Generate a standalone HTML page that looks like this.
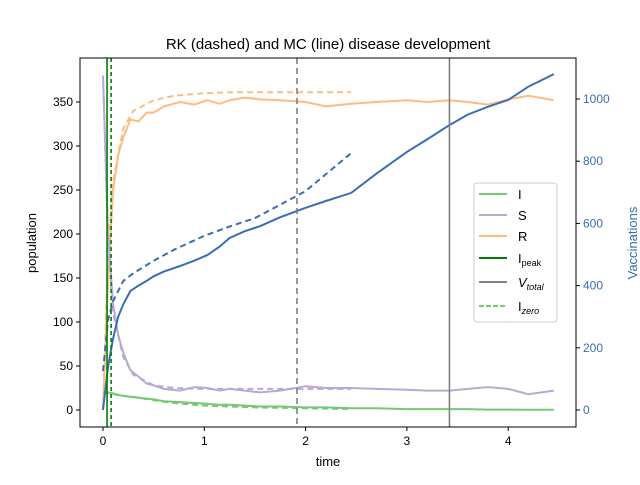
<!DOCTYPE html>
<html><head><meta charset="utf-8"><style>
body{margin:0;background:#fff}
svg{font-family:"Liberation Sans","DejaVu Sans",sans-serif}
</style></head><body>
<svg id="c" width="640" height="480" viewBox="0 0 640 480">
<rect x="0" y="0" width="640" height="480" fill="#fff"/>
<text x="328" y="49" font-size="15" text-anchor="middle">RK (dashed) and MC (line) disease development</text>
<g id="plot"></g>
<rect x="80" y="58" width="496" height="369" fill="none" stroke="#000" stroke-width="1"/>
<g id="axes"></g>
<text x="328" y="466" font-size="13" text-anchor="middle">time</text>
<text x="0" y="0" font-size="13" text-anchor="middle" transform="translate(36,243) rotate(-90)">population</text>
<text x="0" y="0" font-size="13" text-anchor="middle" fill="#3a6db5" transform="translate(637,243) rotate(-90)">Vaccinations</text>
<g>
<rect x="474" y="183" width="83" height="139" rx="3" fill="#fff" fill-opacity="0.85" stroke="#ccc"/>
<g><line x1="479" y1="194" x2="507" y2="194" stroke="#77c777" stroke-width="2"/><text x="518" y="199" font-size="13">I</text></g>
<g><line x1="479" y1="215" x2="507" y2="215" stroke="#b9a8d3" stroke-width="2"/><text x="518" y="220" font-size="13">S</text></g>
<g><line x1="479" y1="236" x2="507" y2="236" stroke="#fdbb80" stroke-width="2"/><text x="518" y="241" font-size="13">R</text></g>
<g><line x1="479" y1="258" x2="507" y2="258" stroke="#008000" stroke-width="2"/><text x="518" y="263" font-size="13">I<tspan font-size="9" dy="3">peak</tspan></text></g>
<g><line x1="479" y1="282" x2="507" y2="282" stroke="#808080" stroke-width="2"/><text x="518" y="287" font-size="13" font-style="italic">V<tspan font-size="9" dy="3">total</tspan></text></g>
<g><line x1="479" y1="306" x2="507" y2="306" stroke="#77c777" stroke-width="2" stroke-dasharray="5,2"/><text x="518" y="311" font-size="13">I<tspan font-size="9" font-style="italic" dy="3">zero</tspan></text></g>
</g>
</svg>
<script>
const xTicks=[0,1,2,3,4];
const yTicks=[0,50,100,150,200,250,300,350];
const vTicks=[0,200,400,600,800,1000];
const mcT=[0,0.05,0.1,0.15,0.2,0.27,0.35,0.43,0.5,0.6,0.76,0.9,1.03,1.15,1.25,1.4,1.55,1.75,2.0,2.2,2.45,2.7,3.0,3.2,3.42,3.6,3.8,4.0,4.2,4.45];
const mcR=[0,150,250,290,310,330,328,338,338,345,350,347,352,348,352,355,353,352,350,345,348,350,352,350,352,350,347,353,357,352];
const mcS=[380,200,120,85,65,45,38,30,28,24,22,26,25,22,24,22,20,22,27,25,25,24,23,22,22,24,26,24,18,22];
const mcI=[20,20,19,17,16,15,14,13,12,10,9,8,7,6,6,5,4,4,3,3,2,2,1,1,1,1,0.5,0.5,0.3,0.3];
const mcV=[0,140,230,300,340,383,400,415,430,445,463,480,498,525,553,575,591,620,650,672,698,760,830,870,916,950,975,997,1040,1080];
const rkT=[0,0.05,0.1,0.2,0.3,0.5,0.7,1.0,1.25,1.5,1.75,2.0,2.45];
const rkR=[0,180,260,320,340,352,357,360,361,361,361,361,361];
const rkS=[380,190,110,60,40,28,25,24,24,24,24,24,24];
const rkI=[20,19,18,16,15,11,8,5,4,3,2.5,2,1];
const rkV=[125,290,350,415,440,480,515,560,590,617,660,704,826];
const vlines=[[0.04,'#008000',null],[0.08,'#008000','4,3'],[1.915,'#808080','6,4'],[3.42,'#808080',null]];
const X=t=>103+t*101.3, Y=v=>410-v*0.88, YV=v=>410-v*0.311;
const NS='http://www.w3.org/2000/svg';
const plot=document.getElementById('plot'), axes=document.getElementById('axes');
function mk(tag,attrs,parent){const e=document.createElementNS(NS,tag);for(const k in attrs)e.setAttribute(k,attrs[k]);parent.appendChild(e);return e;}
function line(ts,vs,yf,color,dash,name){
  const d=ts.map((t,i)=>(i?'L':'M')+X(t).toFixed(1)+','+yf(vs[i]).toFixed(1)).join(' ');
  const p=mk('path',{d:d,fill:'none',stroke:color,'stroke-width':2},plot);
  if(dash)p.setAttribute('stroke-dasharray',dash);
  
  
}
line(rkT,rkR,Y,'#fdbb80','6,4','rk-r-line');
line(mcT,mcR,Y,'#fdbb80',null,'mc-r-line');
line(rkT,rkS,Y,'#b9a8d3','6,4','rk-s-line');
line(mcT,mcS,Y,'#b9a8d3',null,'mc-s-line');
line(rkT,rkI,Y,'#77c777','6,4','rk-i-line');
line(mcT,mcI,Y,'#77c777',null,'mc-i-line');
line(rkT,rkV,YV,'#3a6db5','6,4','rk-v-line');
line(mcT,mcV,YV,'#3a6db5',null,'mc-v-line');
vlines.forEach((v,i)=>{
  const l=mk('line',{x1:X(v[0]),x2:X(v[0]),y1:58,y2:427,stroke:v[1],'stroke-width':1.6},plot);
  if(v[2])l.setAttribute('stroke-dasharray',v[2]);
  
  
});
xTicks.forEach(t=>{
  mk('line',{x1:X(t),x2:X(t),y1:427,y2:431,stroke:'#000'},axes);
  const tx=mk('text',{x:X(t),y:445,'font-size':12,'text-anchor':'middle'},axes);tx.textContent=t;
  
  
});
yTicks.forEach(v=>{
  mk('line',{x1:76,x2:80,y1:Y(v),y2:Y(v),stroke:'#000'},axes);
  const tx=mk('text',{x:73,y:Y(v)+4,'font-size':12,'text-anchor':'end'},axes);tx.textContent=v;
  
  
});
vTicks.forEach(v=>{
  mk('line',{x1:576,x2:580,y1:YV(v),y2:YV(v),stroke:'#000'},axes);
  const tx=mk('text',{x:583,y:YV(v)+4,'font-size':12,'text-anchor':'start',fill:'#3a6db5'},axes);tx.textContent=v;
  
  
});
</script>
</body></html>
